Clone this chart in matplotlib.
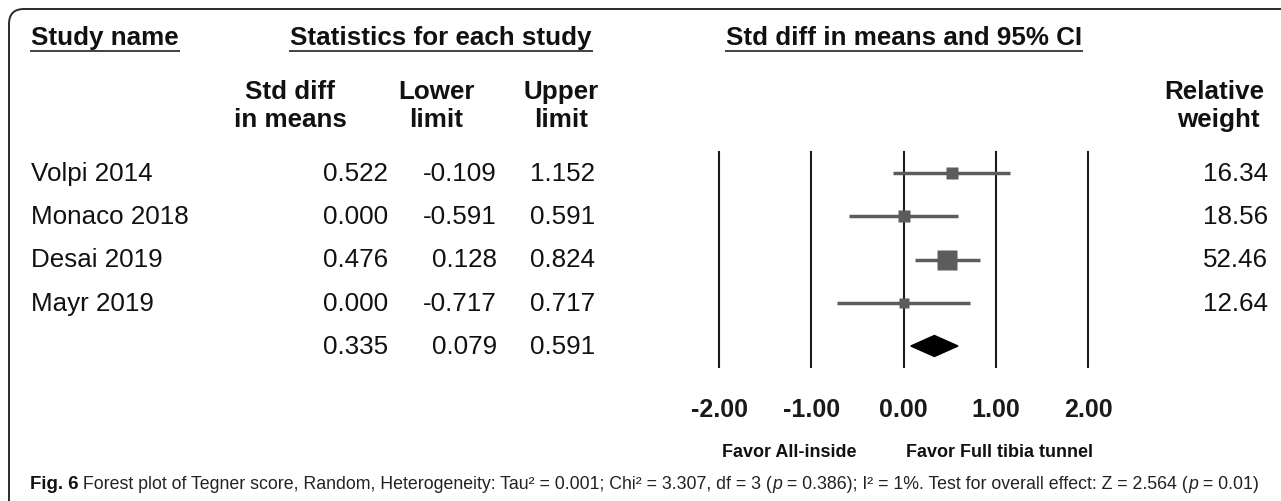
import matplotlib
matplotlib.use("Agg")
import matplotlib.pyplot as plt
from matplotlib.patches import FancyBboxPatch, Polygon
from matplotlib.transforms import blended_transform_factory
from matplotlib import font_manager
import numpy as np

# ---------------- data ----------------
studies = ["Volpi 2014", "Monaco 2018", "Desai 2019", "Mayr 2019"]
std_diff = [0.522, 0.000, 0.476, 0.000]
lower = [-0.109, -0.591, 0.128, -0.717]
upper = [1.152, 0.591, 0.824, 0.717]
weights = [16.34, 18.56, 52.46, 12.64]
summary_est, summary_lo, summary_hi = 0.335, 0.079, 0.591
ticks = [-2.0, -1.0, 0.0, 1.0, 2.0]
tick_labels = ["-2.00", "-1.00", "0.00", "1.00", "2.00"]
favor_left = "Favor All-inside"
favor_right = "Favor Full tibia tunnel"
head_study = "Study name"
head_stats = "Statistics for each study"
head_ci = "Std diff in means and 95% CI"
col_heads = [("Std diff", "in means"), ("Lower", "limit"), ("Upper", "limit")]
weight_head = ("Relative", "weight")
# caption pieces: (text, style)
caption_parts = [
    ("Fig. 6", "bold"), (" Forest plot of Tegner score, Random, Heterogeneity: Tau\u00b2 = 0.001; "
                         "Chi\u00b2 = 3.307, df = 3 (", "normal"),
    ("p", "italic"), (" = 0.386); I\u00b2 = 1%. Test for overall effect: Z = 2.564 (", "normal"),
    ("p", "italic"), (" = 0.01)", "normal"),
]

# ---------------- style ----------------
FONT = "Liberation Sans"
plt.rcParams["font.family"] = [FONT, "DejaVu Sans"]

W, H = 1281, 502
fig = plt.figure(figsize=(W / 100, H / 100), dpi=100)
bg = fig.add_axes([0, 0, 1, 1])
bg.set_xlim(0, W)
bg.set_ylim(H, 0)
bg.axis("off")

# rounded frame
frame = FancyBboxPatch((9, 10), 1310, 520, boxstyle="round,pad=0,rounding_size=15",
                       fill=False, ec="#2b2b2b", lw=1.4)
bg.add_patch(frame)

# forest axes
px_lo, px_hi = 719, 1088
py_top, py_bot = 153, 368
row0, dy = 174, 43.25
ax = fig.add_axes([px_lo / W, 1 - py_bot / H, (px_hi - px_lo) / W, (py_bot - py_top) / H])
ax.set_xlim(ticks[0], ticks[-1])
ax.set_ylim((py_bot - row0) / dy, (py_top - row0) / dy)
ax.patch.set_visible(False)
for s in ax.spines.values():
    s.set_visible(False)
ax.set_yticks([])
ax.set_xticks(ticks, tick_labels)
ax.tick_params(axis="x", length=0, pad=21.5, labelsize=18)
for lab in ax.get_xticklabels():
    lab.set_fontweight("bold")
    lab.set_color("#1a1a1a")

for t in ticks:
    ax.axvline(t, color="#1c1c1c", lw=1.5, zorder=1, clip_on=False)

rows = np.arange(len(studies))
ax.hlines(rows, lower, upper, color="#5c5c5c", lw=2.5, zorder=3)
for r, est, w in zip(rows, std_diff, weights):
    ax.plot([est], [r], marker="s", ms=2.0 * np.sqrt(w), color="#5c5c5c",
            mec="none", zorder=4, clip_on=False)

sr = len(studies)
hh = 10.5 / dy
diamond = Polygon([(summary_lo, sr), (summary_est, sr - hh), (summary_hi, sr),
                   (summary_est, sr + hh)], closed=True, color="black", zorder=4)
ax.add_patch(diamond)

# ---------------- table text ----------------
tr = blended_transform_factory(bg.transData, ax.transData)
FS = 18.7
col_right = [388, 497, 595]
for r, name, a, b, c, w in zip(rows, studies, std_diff, lower, upper, weights):
    ax.text(31, r, name, transform=tr, ha="left", va="center", fontsize=FS, color="#111111")
    for xr, v in zip(col_right, (a, b, c)):
        ax.text(xr, r, f"{v:.3f}", transform=tr, ha="right", va="center", fontsize=FS, color="#111111")
    ax.text(1268, r, f"{w:.2f}", transform=tr, ha="right", va="center", fontsize=FS, color="#111111")
for xr, v in zip(col_right, (summary_est, summary_lo, summary_hi)):
    ax.text(xr, sr, f"{v:.3f}", transform=tr, ha="right", va="center", fontsize=FS, color="#111111")

# headers
fig.canvas.draw()
renderer = fig.canvas.get_renderer()
inv = bg.transData.inverted()

def underlined(x, text, ha):
    t = bg.text(x, 45, text, ha=ha, va="baseline", fontsize=FS, fontweight="bold", color="#111111")
    bb = t.get_window_extent(renderer)
    (xa, _), (xb, _) = inv.transform([(bb.x0, 0), (bb.x1, 0)])
    bg.plot([xa - 1, xb + 1], [52, 52], color="#333333", lw=1.3, solid_capstyle="butt")

underlined(31, head_study, "left")
underlined(441, head_stats, "center")
underlined(904, head_ci, "center")

col_centers = [290, 436, 561]
for xc, (l1, l2) in zip(col_centers, col_heads):
    bg.text(xc, 99, l1, ha="center", va="baseline", fontsize=FS, fontweight="bold", color="#111111")
    bg.text(xc, 127, l2, ha="center", va="baseline", fontsize=FS, fontweight="bold", color="#111111")
bg.text(1264, 99, weight_head[0], ha="right", va="baseline", fontsize=FS, fontweight="bold", color="#111111")
bg.text(1260, 127, weight_head[1], ha="right", va="baseline", fontsize=FS, fontweight="bold", color="#111111")

# favor labels
bg.text(789, 453, favor_left, ha="center", va="center", fontsize=13, fontweight="bold", color="#111111")
bg.text(1000, 453, favor_right, ha="center", va="center", fontsize=13, fontweight="bold", color="#111111")

# caption: pieces laid out left to right, then scaled to fit the width
names = {f.name for f in font_manager.fontManager.ttflist}
cap_font = "Liberation Sans Narrow" if "Liberation Sans Narrow" in names else FONT

def layout_caption(fs):
    objs = []
    x = 30
    for txt, style in caption_parts:
        kw = dict(fontsize=fs, family=[cap_font, "DejaVu Sans"], color="#222222")
        if style == "bold":
            kw.update(fontweight="bold", color="#111111", fontsize=fs * 1.05)
        elif style == "italic":
            kw.update(fontstyle="italic")
        t = bg.text(x, 489, txt, ha="left", va="baseline", **kw)
        objs.append(t)
        bb = t.get_window_extent(renderer)
        x += bb.width
    return objs, x

objs, xend = layout_caption(12)
scale = (1262 - 30) / (xend - 30)
for o in objs:
    o.remove()
objs, xend = layout_caption(12 * scale)

fig.savefig("out.png", dpi=100)
